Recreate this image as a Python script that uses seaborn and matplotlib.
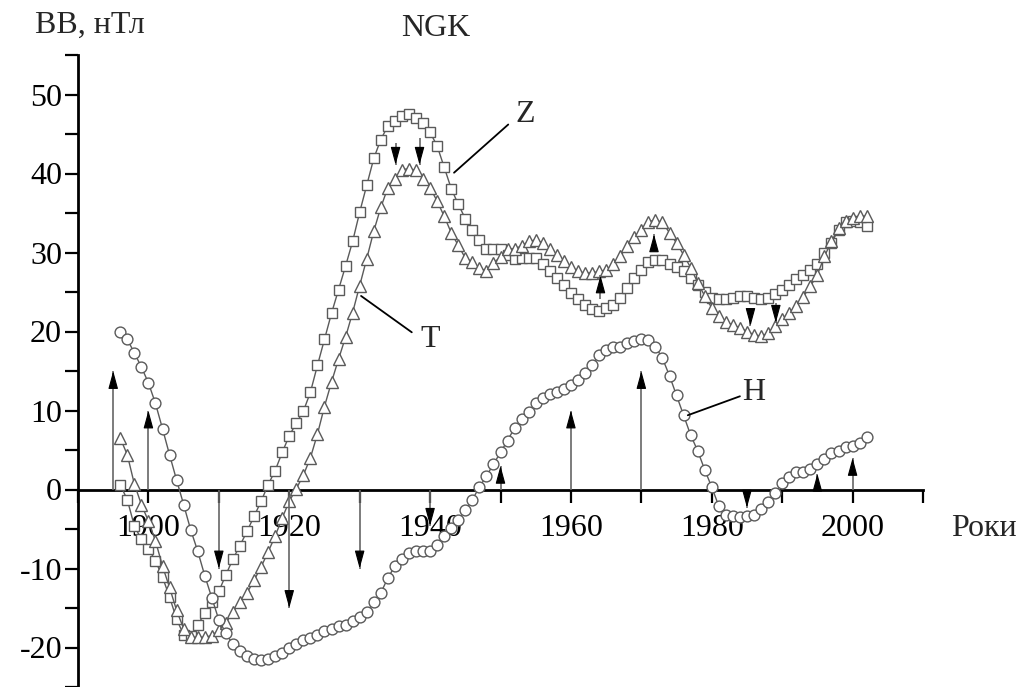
import numpy as np
import pandas as pd
import matplotlib
matplotlib.use("Agg")
import matplotlib.pyplot as plt
import seaborn as sns

# ---------------- data ----------------
years = list(range(1896, 2003))

Z = [0.6, -1.3, -4.6, -6.3, -7.5, -9.0, -11.1, -13.6, -16.4, -18.4,
     -18.6, -17.2, -15.6, -14.3, -12.9, -10.8, -8.8, -7.1, -5.3, -3.4,
     -1.5, 0.6, 2.4, 4.7, 6.8, 8.4, 9.9, 12.3, 15.7, 19.0,
     22.3, 25.3, 28.3, 31.4, 35.1, 38.5, 41.9, 44.3, 46.0, 46.7,
     47.3, 47.5, 47.0, 46.4, 45.2, 43.5, 40.8, 38.1, 36.1, 34.3,
     32.9, 31.6, 30.4, 30.4, 30.4, 29.7, 29.2, 29.3, 29.3, 29.3,
     28.5, 27.6, 26.8, 25.9, 24.9, 24.1, 23.3, 22.8, 22.6, 23.0,
     23.4, 24.3, 25.5, 26.8, 27.8, 28.8, 29.0, 29.0, 28.5, 28.2,
     27.6, 26.8, 25.9, 25.0, 24.2, 24.1, 24.1, 24.3, 24.5, 24.5,
     24.3, 24.1, 24.3, 24.8, 25.3, 25.9, 26.6, 27.1, 27.8, 28.5,
     30.0, 31.2, 32.9, 33.8, 34.0, 33.8, 33.3]

T = [6.5, 4.4, 0.7, -1.9, -4.0, -6.5, -9.7, -12.4, -15.3, -17.6,
     -18.7, -18.7, -18.7, -18.5, -17.8, -16.9, -15.5, -14.3, -13.1, -11.5,
     -9.8, -7.9, -5.9, -3.6, -1.5, 0.1, 1.8, 4.0, 7.0, 10.5,
     13.6, 16.5, 19.3, 22.4, 25.8, 29.2, 32.7, 35.7, 38.2, 39.3,
     40.5, 40.6, 40.4, 39.3, 38.2, 36.5, 34.6, 32.5, 30.9, 29.3,
     28.8, 28.0, 27.7, 28.7, 29.4, 30.4, 30.5, 30.8, 31.4, 31.6,
     31.2, 30.4, 29.7, 28.9, 28.2, 27.6, 27.4, 27.4, 27.6, 27.8,
     28.5, 29.5, 30.8, 31.9, 32.9, 33.9, 34.1, 33.8, 32.5, 31.2,
     29.7, 28.1, 26.2, 24.5, 23.0, 22.0, 21.2, 20.8, 20.5, 20.0,
     19.6, 19.4, 19.8, 20.7, 21.6, 22.4, 23.2, 24.4, 25.7, 27.2,
     29.5, 31.4, 33.1, 34.0, 34.4, 34.6, 34.6]

H = [20.0, 19.0, 17.3, 15.5, 13.5, 10.9, 7.7, 4.4, 1.2, -1.9,
     -5.1, -7.8, -10.9, -13.7, -16.5, -18.2, -19.6, -20.4, -21.1, -21.5,
     -21.6, -21.5, -21.1, -20.7, -20.1, -19.5, -19.0, -18.8, -18.4, -17.9,
     -17.6, -17.3, -17.2, -16.7, -16.2, -15.5, -14.3, -13.1, -11.2, -9.7,
     -8.8, -8.0, -7.8, -7.8, -7.8, -7.05, -5.9, -4.9, -3.8, -2.6,
     -1.3, 0.3, 1.7, 3.2, 4.7, 6.2, 7.8, 8.9, 9.8, 10.9,
     11.6, 12.1, 12.4, 12.7, 13.2, 13.8, 14.8, 15.8, 17.0, 17.6,
     18.1, 18.1, 18.5, 18.8, 19.1, 18.9, 18.1, 16.6, 14.4, 11.9,
     9.4, 6.9, 4.9, 2.5, 0.3, -2.1, -3.2, -3.4, -3.5, -3.4,
     -3.2, -2.5, -1.6, -0.4, 0.8, 1.6, 2.2, 2.2, 2.6, 3.2,
     3.8, 4.6, 4.9, 5.4, 5.5, 5.9, 6.7]

# arrows rising/falling from the zero line
base_arrow_years = [1895, 1900, 1910, 1920, 1930, 1940, 1950, 1960, 1970, 1985, 1995, 2000]
base_arrow_tips = [15, 10, -10, -15, -10, -4.6, 3, 10, 15, -2.3, 2, 4]

# short arrows on the curves (start -> tip)
curve_arrow_years = [1935.1, 1938.5, 1964.2, 1971.8, 1985.5, 1989.1]
curve_arrow_start = [43.9, 44.5, 24.1, 30.2, 23.0, 23.6]
curve_arrow_tip = [41.1, 41.1, 27.1, 32.3, 20.7, 21.1]

x_major = [1900, 1920, 1940, 1960, 1980, 2000]
x_minor = [1890, 1910, 1930, 1950, 1970, 1990, 2010]
y_major = [-20, -10, 0, 10, 20, 30, 40, 50]

df = pd.DataFrame({"year": years, "Z": Z, "T": T, "H": H})

# ---------------- style ----------------
sns.set_theme(style="white")
plt.rcParams["font.family"] = ["Liberation Serif", "DejaVu Serif"]
plt.rcParams["axes.unicode_minus"] = False

FS = 23
fig = plt.figure(figsize=(10.29, 6.87), dpi=100)
ax = fig.add_axes([78 / 1029, 0.0, 845 / 1029, 632 / 687])

edge = "#5a5a5a"
common = dict(color=edge, linewidth=1.0, markerfacecolor="white",
              markeredgecolor=edge, markeredgewidth=1.0)
sns.lineplot(data=df, x="year", y="Z", ax=ax, marker="s", markersize=6.8, **common)
sns.lineplot(data=df, x="year", y="T", ax=ax, marker="^", markersize=8.3, **common)
sns.lineplot(data=df, x="year", y="H", ax=ax, marker="o", markersize=7.8, **common)

ax.set_xlim(1890, 2010)
ax.set_ylim(-25, 55)
ax.set_xlabel("")
ax.set_ylabel("")

# spines
for s in ["top", "right"]:
    ax.spines[s].set_visible(False)
ax.spines["bottom"].set_position(("data", 0))
for s in ["left", "bottom"]:
    ax.spines[s].set_color("black")
    ax.spines[s].set_linewidth(2.0)
    ax.spines[s].set_zorder(1)

ax.set_xticks(x_major)
ax.set_xticklabels([str(v) for v in x_major])
ax.set_xticks(x_minor, minor=True)
ax.set_yticks(y_major)
ax.set_yticklabels([str(v) for v in y_major])
ax.set_yticks(np.arange(-25, 56, 5), minor=True)
ax.tick_params(axis="both", which="both", direction="out", length=9.5, width=1.6,
               color="black", labelsize=FS, labelcolor="black")
ax.tick_params(axis="x", which="both", bottom=True, pad=8)
ax.tick_params(axis="y", which="both", left=True, pad=2)
ax.grid(False)
ax.set_facecolor("white")

# arrows: gray shaft + black head
shaft = "#666666"
head_units = 1.9
astyle = dict(arrowstyle="-|>,head_length=1.1,head_width=0.3",
              mutation_scale=10, color="black", lw=0.8, shrinkA=0, shrinkB=0)


def draw_arrow(xv, y0, y1):
    ax.vlines(xv, y0, y1, color=shaft, lw=1.2, zorder=3)
    d = 1 if y1 > y0 else -1
    ax.annotate("", xy=(xv, y1), xytext=(xv, y1 - d * min(head_units, abs(y1 - y0))),
                arrowprops=astyle, zorder=4)


for xv, tip in zip(base_arrow_years, base_arrow_tips):
    draw_arrow(xv, 0, tip)
for xv, s0, s1 in zip(curve_arrow_years, curve_arrow_start, curve_arrow_tip):
    draw_arrow(xv, s0, s1)

# curve labels with leader lines
ax.plot([1943.4, 1951.1], [40.1, 46.2], color="black", lw=1.3)
ax.text(1953.5, 47.5, "Z", fontsize=FS, ha="center", va="center")
ax.plot([1930.2, 1937.4], [24.5, 19.9], color="black", lw=1.3)
ax.text(1940.0, 19.0, "T", fontsize=FS, ha="center", va="center")
ax.plot([1976.6, 1984.0], [9.4, 11.8], color="black", lw=1.3)
ax.text(1986.0, 12.3, "H", fontsize=FS, ha="center", va="center")

fig.text(90 / 1029, 1 - 25 / 687, "ВВ, нТл", fontsize=FS, ha="center", va="center")
fig.text(436 / 1029, 1 - 28 / 687, "NGK", fontsize=FS, ha="center", va="center")
fig.text(984 / 1029, 1 - 528 / 687, "Роки", fontsize=FS, ha="center", va="center")

fig.savefig("out.png", dpi=100, facecolor="white")
